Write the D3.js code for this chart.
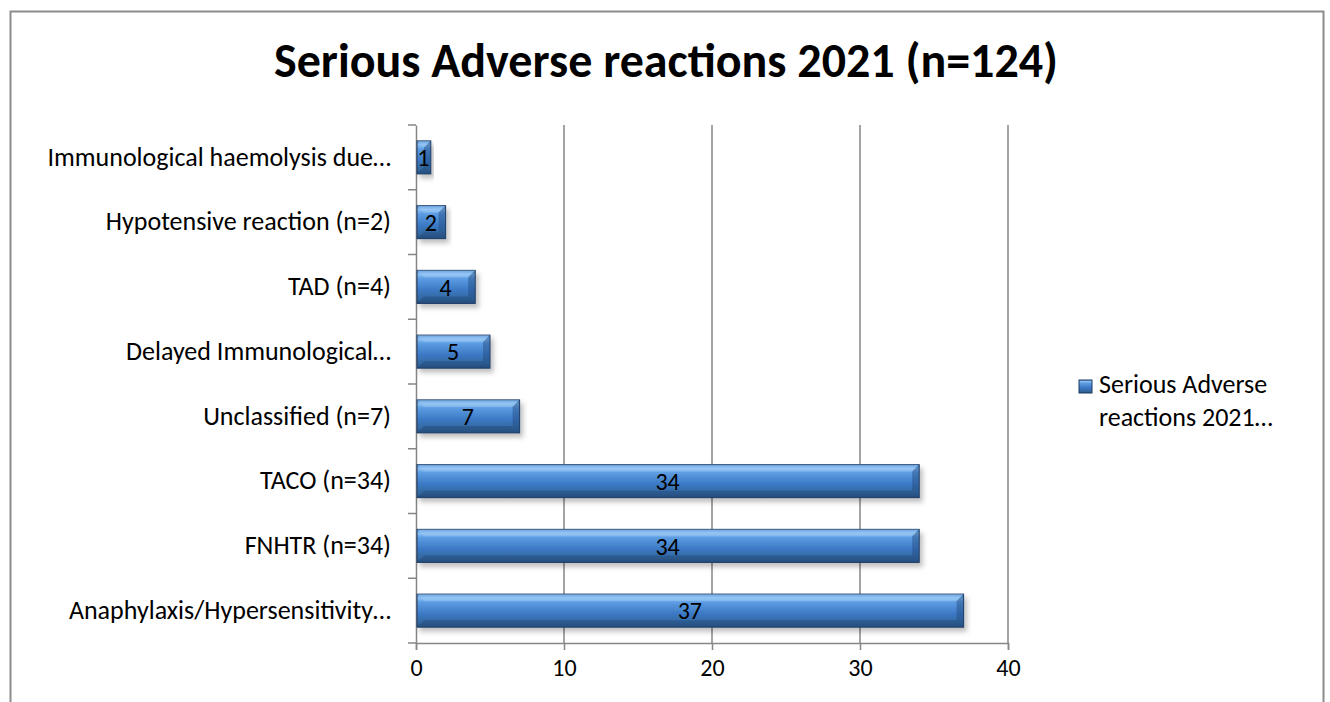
<!DOCTYPE html>
<html><head><meta charset="utf-8">
<script src="https://cdn.jsdelivr.net/npm/d3@7"></script>
<style>body{margin:0;background:#fff}svg{display:block}</style>
</head><body>
<svg id="c" width="1330" height="702"></svg>
<script>
const categories = ["Immunological haemolysis due…","Hypotensive reaction (n=2)","TAD (n=4)","Delayed Immunological…","Unclassified (n=7)","TACO (n=34)","FNHTR (n=34)","Anaphylaxis/Hypersensitivity…"];
const values = [1,2,4,5,7,34,34,37];
const xTicks = [0,10,20,30,40];
const title = "Serious Adverse reactions 2021 (n=124)";
const legendLines = ["Serious Adverse","reactions 2021…"];

const font = "Carlito, 'Open Sans', 'Noto Sans', sans-serif";
const svg = d3.select("#c");
// outer frame
svg.append("path").attr("d","M10.5,702 V11.5 H1323.5 V702").attr("fill","none").attr("stroke","#8c8c8c").attr("stroke-width",2);

const defs = svg.append("defs");
const g = defs.append("linearGradient").attr("id","bar").attr("x1",0).attr("y1",0).attr("x2",0).attr("y2",1);
[[0,"#4f8fd6"],[0.12,"#8cc0f2"],[0.25,"#5c9ce2"],[0.6,"#3b78c4"],[0.85,"#34699f"],[1,"#2a5485"]].forEach(s=>g.append("stop").attr("offset",s[0]).attr("stop-color",s[1]));
const f = defs.append("filter").attr("id","sh").attr("x","-10%").attr("y","-20%").attr("width","130%").attr("height","160%");
f.append("feDropShadow").attr("dx",3).attr("dy",4).attr("stdDeviation",2.5).attr("flood-color","#000").attr("flood-opacity",0.25);

const x = d3.scaleLinear().domain([0,40]).range([416,1008]);
const y = d3.scaleBand().domain(categories).range([125,643]).paddingInner(0.49).paddingOuter(0.245);
const yb = d3.scaleBand().domain(categories).range([125,643]);

// gridlines
svg.append("g").selectAll("line").data(xTicks.slice(1)).join("line")
  .attr("x1",d=>x(d)).attr("x2",d=>x(d)).attr("y1",125).attr("y2",643)
  .attr("stroke","#868686").attr("stroke-width",1.5);

// x axis
const xa = svg.append("g").attr("transform","translate(0,643)").call(d3.axisBottom(x).tickValues(xTicks).tickSize(7).tickPadding(9));
xa.select(".domain").attr("stroke","#868686").attr("stroke-width",1.5);
xa.selectAll(".tick line").attr("stroke","#868686").attr("stroke-width",1.5);
xa.selectAll("text").attr("font-family",font).attr("font-size",24).attr("fill","#000");

// y axis
const ya = svg.append("g").attr("transform","translate(416,0)").call(d3.axisLeft(yb).tickSize(0).tickPadding(25));
ya.select(".domain").attr("stroke","#868686").attr("stroke-width",1.5);
ya.selectAll("text").attr("font-family",font).attr("font-size",26).attr("fill","#000");
svg.append("g").selectAll("line").data(d3.range(categories.length+1)).join("line")
  .attr("x1",408).attr("x2",416).attr("y1",i=>125+i*yb.step()).attr("y2",i=>125+i*yb.step())
  .attr("stroke","#868686").attr("stroke-width",1.5);

// bars
const bars = svg.append("g").selectAll("g").data(categories).join("g");
bars.append("rect").attr("x",x(0)+1).attr("y",d=>y(d)).attr("width",(d,i)=>x(values[i])-x(0)-1).attr("height",y.bandwidth())
  .attr("fill","url(#bar)").attr("stroke","#1f3a60").attr("stroke-width",1).attr("filter","url(#sh)");
// bevel corners
bars.append("path").attr("d",(d,i)=>{const x0=x(0)+1,x1=x(values[i]),y0=y(d),h=y.bandwidth(),b=Math.min(7,(x1-x0)/2);
  return `M${x0},${y0}L${x1},${y0}L${x1-b},${y0+b}L${x0+b},${y0+b}Z`;}).attr("fill","#a8d2f8").attr("opacity",0.35);
bars.append("path").attr("d",(d,i)=>{const x0=x(0)+1,x1=x(values[i]),y0=y(d),h=y.bandwidth(),b=Math.min(7,(x1-x0)/2);
  return `M${x1},${y0}L${x1},${y0+h}L${x1-b},${y0+h-b}L${x1-b},${y0+b}Z`;}).attr("fill","#214a7c").attr("opacity",0.45);
bars.append("path").attr("d",(d,i)=>{const x0=x(0)+1,x1=x(values[i]),y0=y(d),h=y.bandwidth(),b=Math.min(7,(x1-x0)/2);
  return `M${x0},${y0+h}L${x1},${y0+h}L${x1-b},${y0+h-b}L${x0+b},${y0+h-b}Z`;}).attr("fill","#1f4472").attr("opacity",0.4);
bars.append("text").attr("x",(d,i)=>(x(0)+x(values[i]))/2).attr("y",d=>y(d)+y.bandwidth()/2).attr("dy","0.36em")
  .attr("text-anchor","middle").attr("font-family",font).attr("font-size",24).attr("fill","#000").text((d,i)=>values[i]);

// title
svg.append("text").attr("x",666).attr("y",77).attr("text-anchor","middle").attr("font-family",font).attr("font-weight","bold").attr("font-size",48).text(title);

// legend
svg.append("rect").attr("x",1079).attr("y",380).attr("width",13).attr("height",13).attr("fill","url(#bar)").attr("stroke","#1f3a60");
svg.append("text").attr("font-family",font).attr("font-size",26).selectAll("tspan").data(legendLines).join("tspan")
  .attr("x",1099).attr("y",(d,i)=>393+i*33).text(d=>d);
</script>
</body></html>
